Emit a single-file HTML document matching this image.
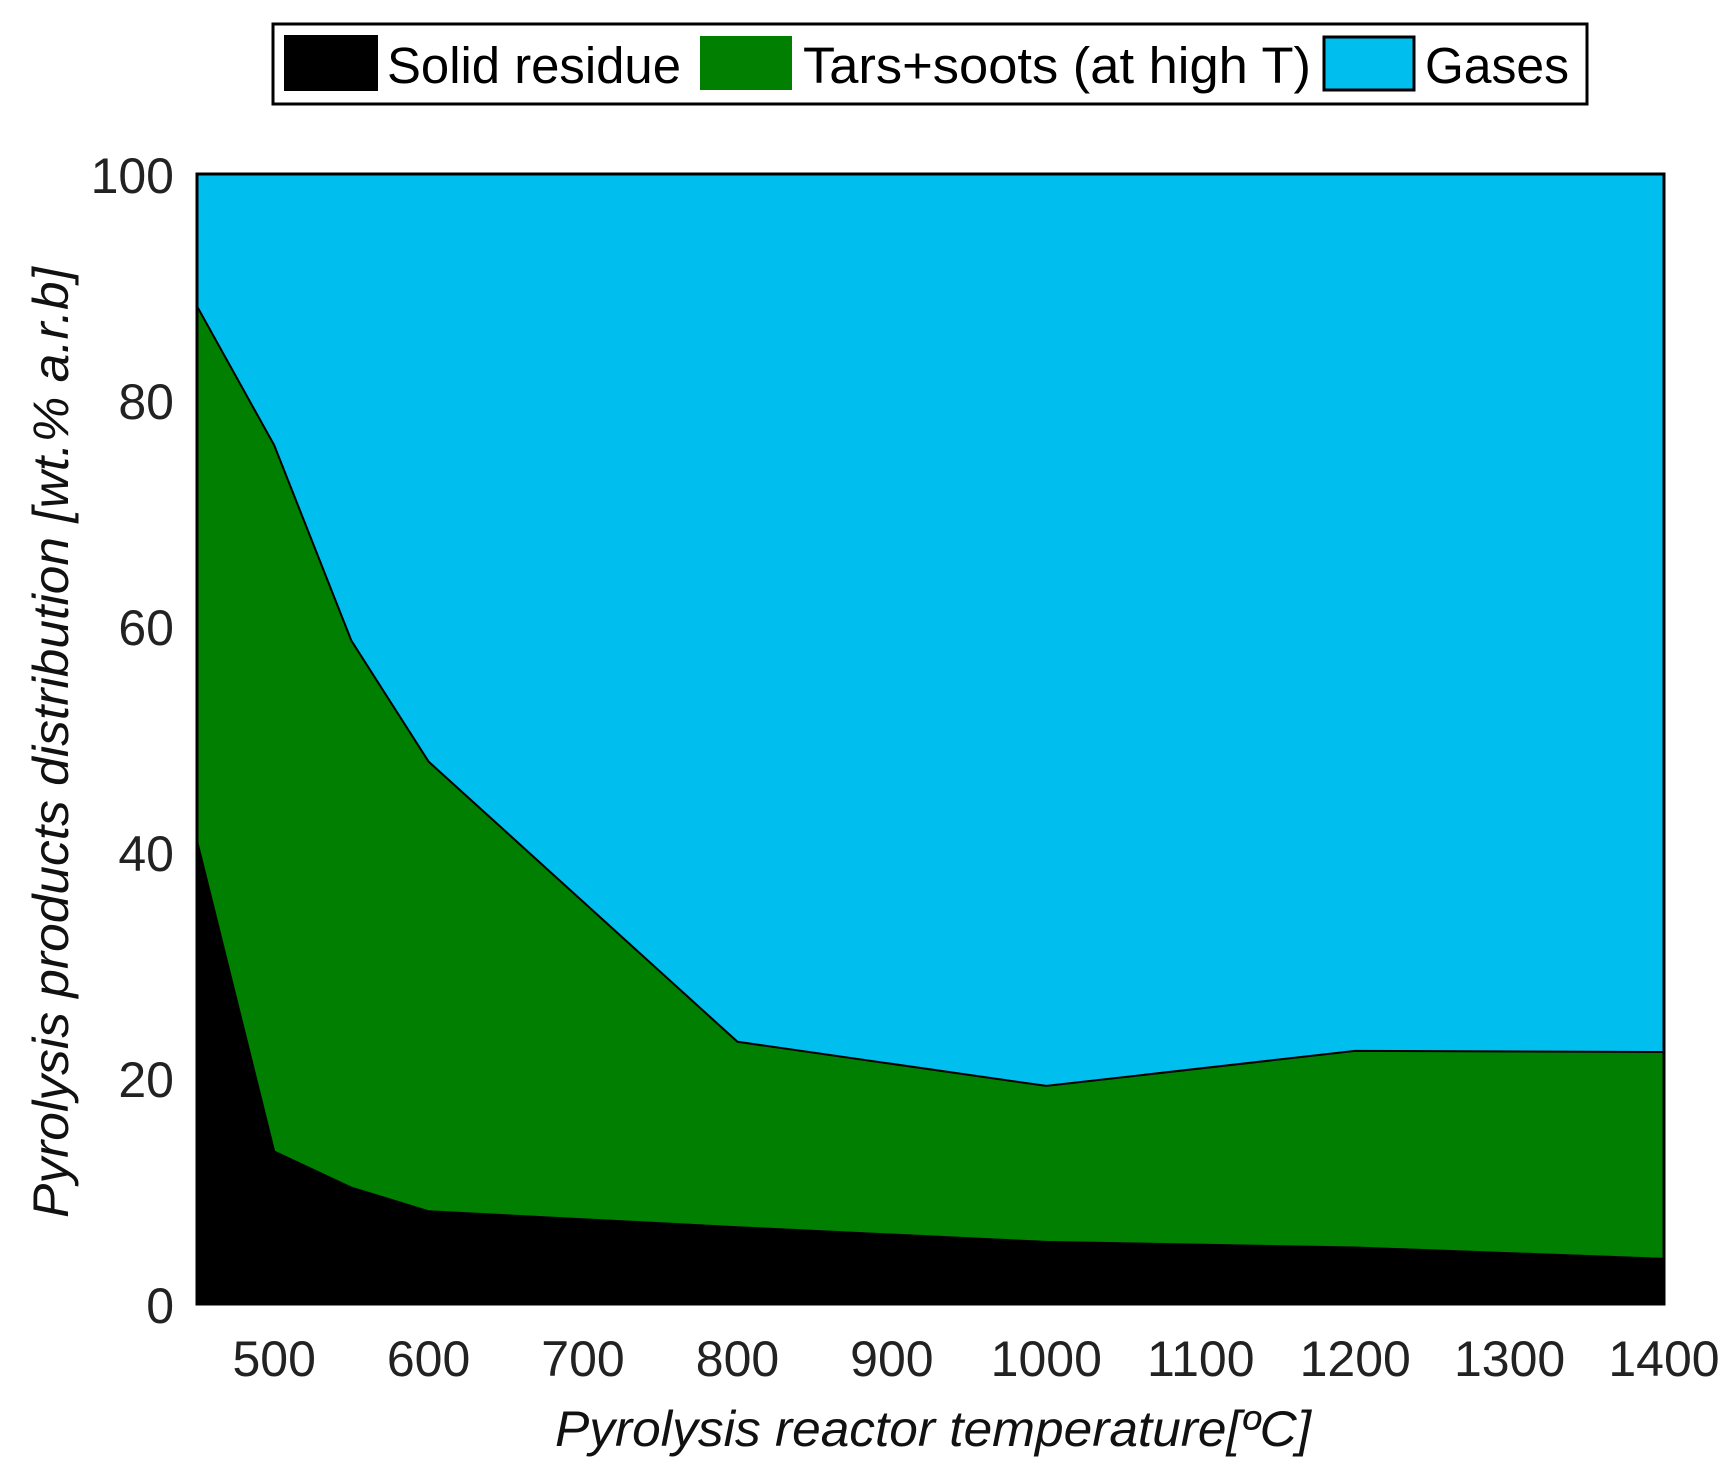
<!DOCTYPE html>
<html><head><meta charset="utf-8"><style>html,body{margin:0;padding:0;background:#fff}svg{display:block}</style></head>
<body>
<svg width="1736" height="1468" viewBox="0 0 1736 1468" xmlns="http://www.w3.org/2000/svg" font-family="Liberation Sans, Arial, sans-serif">
<rect x="0" y="0" width="1736" height="1468" fill="#fff"/>
<rect x="197" y="174" width="1467" height="1130" fill="#00BFEE"/>
<polygon points="197,306.2 274.2,445.2 351.4,640.7 428.6,761.6 737.5,1041.8 1046.3,1085.9 1355.2,1050.9 1664,1052 1664,1304 197,1304" fill="#007F00" stroke="#000" stroke-width="2"/>
<polygon points="197,840.7 274.2,1151.5 351.4,1187.6 428.6,1211.3 737.5,1227.2 1046.3,1241.9 1355.2,1247.5 1664,1258.8 1664,1304 197,1304" fill="#000" stroke="#000" stroke-width="2"/>
<rect x="197" y="174" width="1467" height="1130" fill="none" stroke="#000" stroke-width="3"/>
<g font-size="50" fill="#222" text-anchor="end" dominant-baseline="central">
<text x="174" y="176">100</text>
<text x="174" y="402">80</text>
<text x="174" y="628">60</text>
<text x="174" y="854">40</text>
<text x="174" y="1080">20</text>
<text x="174" y="1306">0</text>
</g>
<g font-size="50" fill="#222" text-anchor="middle">
<text x="274.2" y="1376">500</text>
<text x="428.6" y="1376">600</text>
<text x="583" y="1376">700</text>
<text x="737.5" y="1376">800</text>
<text x="891.9" y="1376">900</text>
<text x="1046.3" y="1376">1000</text>
<text x="1200.8" y="1376">1100</text>
<text x="1355.2" y="1376">1200</text>
<text x="1509.6" y="1376">1300</text>
<text x="1664" y="1376">1400</text>
</g>
<text x="555" y="1446" font-size="50" font-style="italic" fill="#111" textLength="756" lengthAdjust="spacingAndGlyphs">Pyrolysis reactor temperature[ºC]</text>
<text transform="translate(68,1218) rotate(-90)" font-size="50" font-style="italic" fill="#111" textLength="951" lengthAdjust="spacingAndGlyphs">Pyrolysis products distribution [wt.% a.r.b]</text>
<rect x="273" y="24" width="1314" height="80" fill="#fff" stroke="#000" stroke-width="3"/>
<rect x="284" y="35" width="94" height="56" fill="#000"/>
<rect x="700" y="36" width="92" height="54" fill="#007F00"/>
<rect x="1324" y="37" width="90" height="53" fill="#00BFEE" stroke="#000" stroke-width="3"/>
<g font-size="51" fill="#000">
<text x="387" y="83" textLength="294" lengthAdjust="spacingAndGlyphs">Solid residue</text>
<text x="803" y="83" textLength="508" lengthAdjust="spacingAndGlyphs">Tars+soots (at high T)</text>
<text x="1425" y="83" textLength="144" lengthAdjust="spacingAndGlyphs">Gases</text>
</g>
</svg>
</body></html>
